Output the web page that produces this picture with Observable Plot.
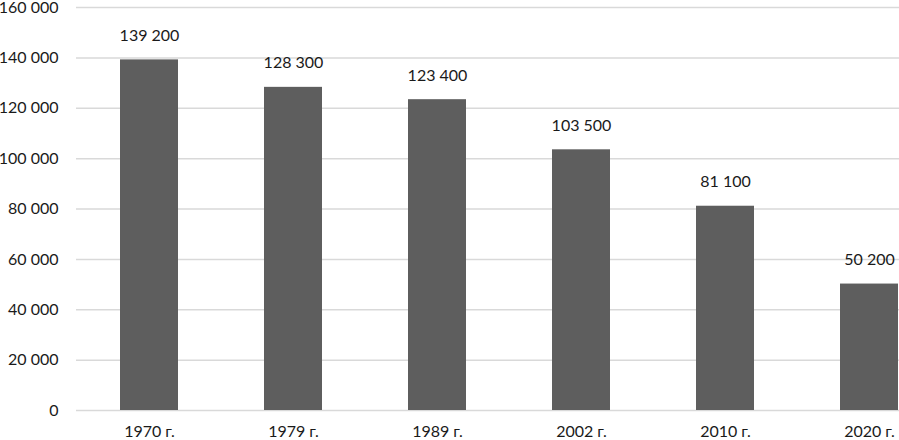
<!DOCTYPE html>
<html>
<head>
<meta charset="utf-8">
<script src="https://cdn.jsdelivr.net/npm/d3@7"></script>
<script src="https://cdn.jsdelivr.net/npm/@observablehq/plot@0.6"></script>
<style>
  html, body { margin: 0; padding: 0; background: #fff; overflow: hidden; }
  #chart svg { overflow: hidden; }
</style>
</head>
<body>
<div id="chart"></div>
<script>
const categories = ["1970 г.", "1979 г.", "1989 г.", "2002 г.", "2010 г.", "2020 г."];
const values = [139200, 128300, 123400, 103500, 81100, 50200];
const yTicks = [0, 20000, 40000, 60000, 80000, 100000, 120000, 140000, 160000];

const data = categories.map((c, i) => ({cat: c, value: values[i]}));
const loc = d3.formatLocale({decimal: ",", thousands: "\u00a0", grouping: [3], currency: ["", ""]});
const fmt = v => loc.format(",")(v).replace(/\u00a0/g, " ");

const chart = Plot.plot({
  width: 899,
  height: 440,
  marginLeft: 76,
  marginRight: 0,
  marginTop: 7,
  marginBottom: 30,
  style: {fontFamily: "Lato, 'Open Sans', sans-serif", fontSize: "16px", color: "#262626", background: "#fff"},
  x: {domain: categories, range: [76.5, 941], paddingInner: 0.6, paddingOuter: 0.3, label: null},
  y: {domain: [0, 160000], label: null},
  marks: [
    Plot.ruleY(yTicks, {stroke: "#d9d9d9", strokeWidth: 1.5}),
    Plot.barY(data, {x: "cat", y: "value", fill: "#5e5e5e"}),
    Plot.text(data, {x: "cat", y: "value", text: d => fmt(d.value), dy: -24, lineAnchor: "middle", fill: "#1a1a1a", fontSize: 16}),
    Plot.axisY({ticks: yTicks, tickFormat: fmt, tickSize: 0, tickPadding: 18, fontSize: 16, fill: "#1a1a1a"}),
    Plot.axisX({tickSize: 0, tickPadding: 15, fontSize: 16, fill: "#1a1a1a"})
  ]
});
document.getElementById("chart").appendChild(chart);
</script>
</body>
</html>
